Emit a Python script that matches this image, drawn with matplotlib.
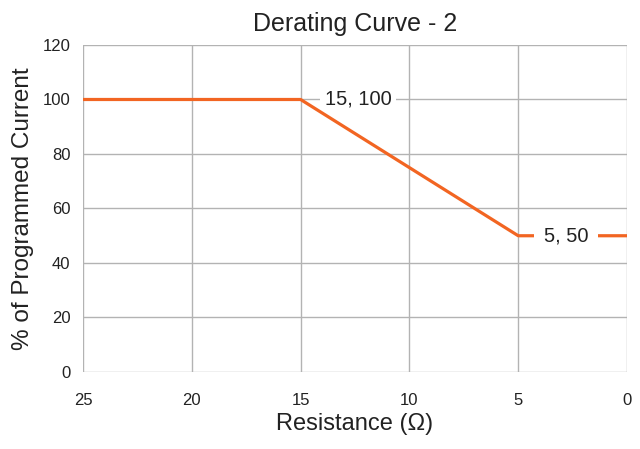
import matplotlib.pyplot as plt

plt.rcParams['font.family'] = ['Liberation Sans', 'DejaVu Sans']

resistance = [25, 15, 5, 0]
current = [100, 100, 50, 50]
labels = ["15, 100", "5, 50"]
label_pos = [(12.35, 100), (2.8, 50)]
label_pad = [3.5, 7]
label_z = [4, 6]

fig = plt.figure(figsize=(6.4, 4.49), dpi=100)
ax = fig.add_axes([0.1297, 0.1715, 0.85, 0.7283])

ax.plot(resistance, current, color="#F26522", lw=2.3, solid_capstyle="butt", zorder=5)

for txt, (x, y), p, z in zip(labels, label_pos, label_pad, label_z):
    ax.text(x, y, txt, ha="center", va="center", fontsize=14.5, color="#222222",
            bbox=dict(facecolor="white", edgecolor="none", pad=p), zorder=z)

ax.set_xlim(25, 0)
ax.set_ylim(0, 120)
ax.set_xticks([25, 20, 15, 10, 5, 0])
ax.set_yticks([0, 20, 40, 60, 80, 100, 120])
ax.grid(True, color="#b3b3b3", lw=1)
ax.set_axisbelow(True)
for s in ax.spines.values():
    s.set_visible(False)
ax.tick_params(length=0, labelsize=12, colors="#222222")
ax.tick_params(axis="x", pad=15)
ax.tick_params(axis="y", pad=9)

ax.set_title("Derating Curve - 2", fontsize=18, pad=10, color="#222222")
ax.set_xlabel("Resistance (\u03a9)", fontsize=17, color="#222222", labelpad=4)
ax.set_ylabel("% of Programmed Current", fontsize=17.5, color="#222222", labelpad=6)

fig.savefig("out.png", dpi=100)
